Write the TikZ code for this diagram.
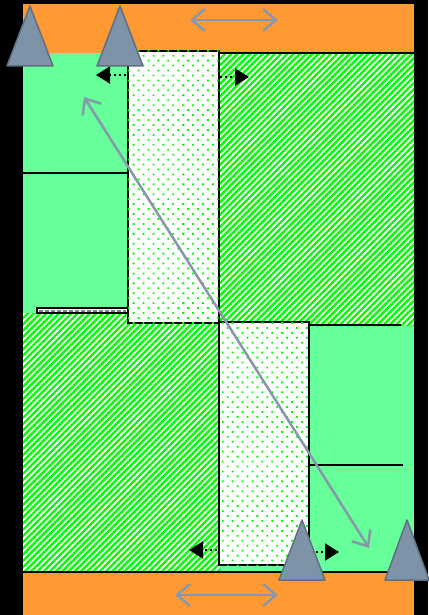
\documentclass[tikz,border=0pt]{standalone}
\usetikzlibrary{patterns.meta,arrows.meta}
\definecolor{orng}{HTML}{FF9933}
\definecolor{lgreen}{HTML}{66FF99}
\definecolor{hgreen}{HTML}{00FF00}
\definecolor{tri}{HTML}{7F93A8}
\definecolor{trid}{HTML}{5F7082}
\definecolor{garrow}{HTML}{8898AA}
\tikzset{
  hatchbox/.style={fill=white,postaction={pattern={Lines[angle=45,distance=4.4pt,line width=2.4pt]},pattern color=hgreen}},
  dotbox/.style={fill=white,postaction={pattern={Dots[angle=45,distance=7pt,radius=1.3pt]},pattern color=hgreen},draw=black,line width=1.5pt},
  solidbox/.style={fill=lgreen},
  wedge/.style={fill=tri,draw=trid,line width=1.5pt,line join=round},
  grayarrow/.style={draw=garrow,line width=2.5pt,{Straight Barb[length=13pt,width=22pt,line width=2.5pt]}-{Straight Barb[length=13pt,width=22pt,line width=2.5pt]}},
  dotarrow/.style={draw=black,line width=2pt,dash pattern=on 2pt off 3pt,-{Triangle[length=14pt,width=17pt]}},
  divider/.style={draw=black,line width=1.5pt}
}
\begin{document}
\begin{tikzpicture}[x=1pt,y=-1pt]
\useasboundingbox (0,0) rectangle (428,615);
\fill[black] (0,0) rectangle (428,615);
% orange bars
\fill[orng] (23,4) rectangle (414,53);
\fill[orng] (23,572) rectangle (414,615);
% solid green regions
\fill[solidbox] (23,53) rectangle (128,313);
\fill[solidbox] (309,325) rectangle (414,572);
\fill[solidbox] (219,565) rectangle (309,572);
% hatched regions
\path[hatchbox] (220,53) rectangle (414,325);
\path[hatchbox] (23,313) rectangle (220,572);
% thin strip
\path[fill=white,draw=black,line width=1.2pt] (37,308) rectangle (128,313);
\draw[gray,line width=2pt,dash pattern=on 4pt off 2pt] (39,310.5) -- (126,310.5);
% dotted columns
\path[dotbox] (128,51) rectangle (219,323);
\path[dotbox] (219,322) rectangle (309,565);
% dividers
\draw[divider] (23,173) -- (128,173);
\draw[divider] (309,465) -- (403,465);
\draw[divider,line width=2pt] (309,325) -- (401,325);
\draw[divider] (220,53) -- (414,53);
\draw[divider] (23,572) -- (414,572);
% double gray arrows
\coordinate (ta1) at (190,20); \coordinate (ta2) at (278,20);
\coordinate (ba1) at (175,595); \coordinate (ba2) at (278,595);
\draw[grayarrow] (ta1) -- (ta2);
\draw[grayarrow] (ba1) -- (ba2);
% dotted black arrows
\coordinate (d1s) at (126,75); \coordinate (d1e) at (96,75);
\coordinate (d2s) at (220,77); \coordinate (d2e) at (249,77);
\coordinate (d3s) at (217,550); \coordinate (d3e) at (189,550);
\coordinate (d4s) at (311,552); \coordinate (d4e) at (339,552);
\draw[dotarrow] (d1s) -- (d1e);
\draw[dotarrow] (d2s) -- (d2e);
\draw[dotarrow] (d3s) -- (d3e);
\draw[dotarrow] (d4s) -- (d4e);
% diagonal arrow
\coordinate (g1) at (84,97); \coordinate (g2) at (369,548);
\draw[grayarrow] (g1) -- (g2);
% triangles
\draw[wedge] (30,6) -- (53,66) -- (7,66) -- cycle;
\draw[wedge] (120,6) -- (143,66) -- (97,66) -- cycle;
\draw[wedge] (302,520) -- (325,580) -- (279,580) -- cycle;
\draw[wedge] (407,520) -- (429,580) -- (385,580) -- cycle;
\end{tikzpicture}
\end{document}
